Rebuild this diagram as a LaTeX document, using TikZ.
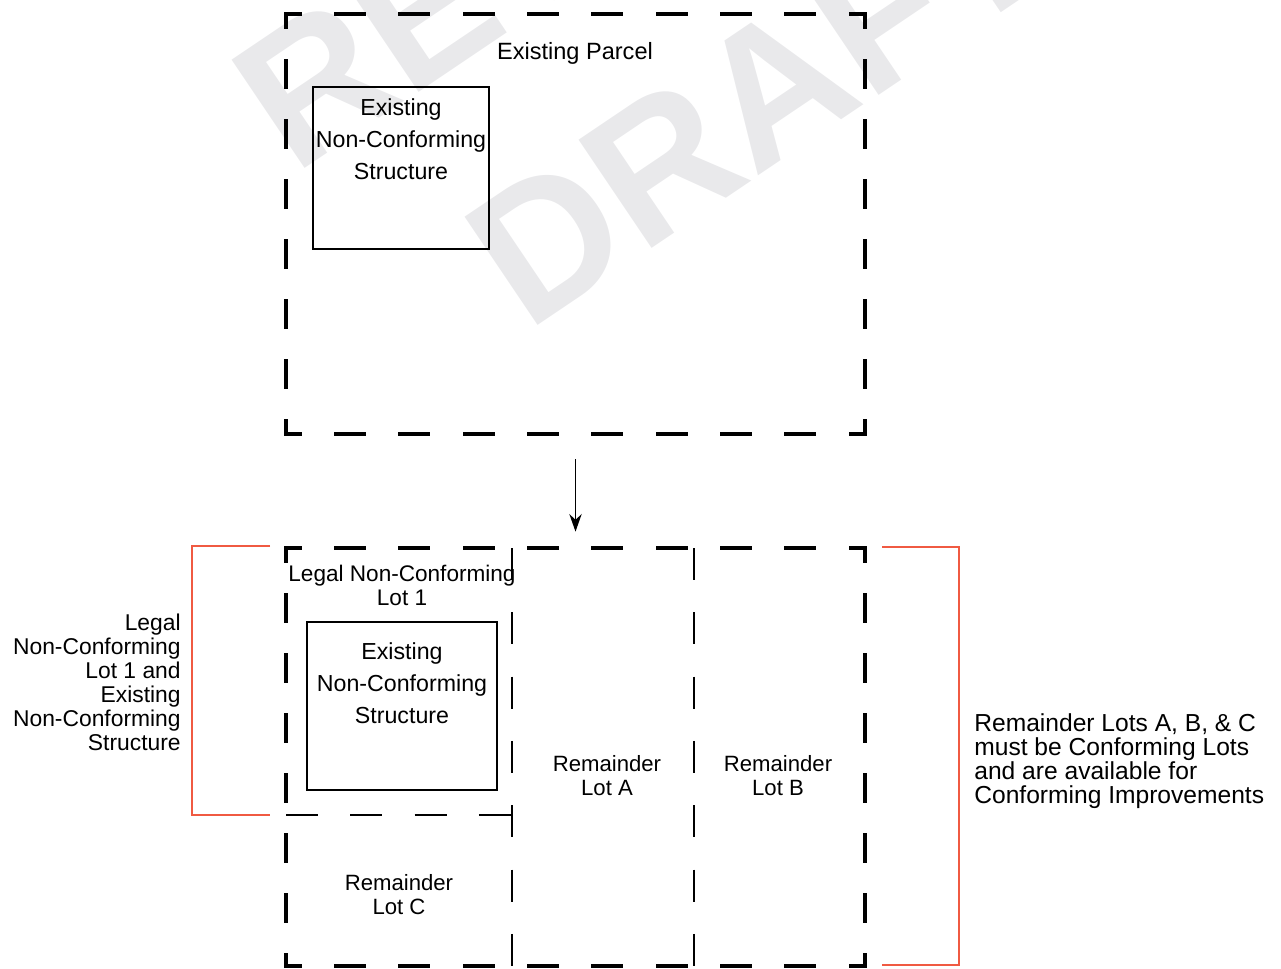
\documentclass[tikz,border=0pt]{standalone}
\usepackage{fontspec}
\setmainfont{Liberation Sans}
\usetikzlibrary{arrows.meta,positioning,fit}
\definecolor{bracketred}{RGB}{240,90,66}
\definecolor{wmgray}{RGB}{233,233,235}

\begin{document}
\begin{tikzpicture}[x=0.02cm,y=-0.02cm,>=Stealth,
  lbl/.style={align=center,inner sep=0pt,font=\fontsize{12.6}{13.66}\selectfont},
  strlbl/.style={align=center,inner sep=0pt,font=\fontsize{13.2}{18.2}\selectfont},
  note/.style={inner sep=0pt,font=\fontsize{13}{13.66}\selectfont},
  edgeh/.style={line width=2.4pt,line cap=rect,dash pattern=on 15.91pt off 20.71pt,dash phase=7.96pt},
  edgev/.style={line width=2.4pt,line cap=rect,dash pattern=on 14.67pt off 19.47pt,dash phase=7.33pt},
  lotline/.style={line width=1.3pt,dash pattern=on 18.3pt off 18.3pt},
  structure/.style={line width=1.2pt},
  bracket/.style={line width=1.2pt,bracketred},
  watermark/.style={rotate=34,text=wmgray,align=right,inner sep=0pt,font=\fontsize{108}{148}\selectfont\bfseries}]
\useasboundingbox (0,0) rectangle (1281,968);

% watermark behind everything
\node[watermark] (wm) at (641,20) {REVIEW\\DRAFT};

% parcel outlines
\node[fit={(286,14) (865,434)},inner sep=0pt] (parcel) {};
\node[fit={(286,548) (865,966)},inner sep=0pt] (split) {};
\foreach \p in {parcel,split}{
  \draw[edgeh] (\p.north west) -- (\p.north east);
  \draw[edgeh] (\p.south west) -- (\p.south east);
  \draw[edgev] (\p.north west) -- (\p.south west);
  \draw[edgev] (\p.north east) -- (\p.south east);
}
\node[lbl,font=\fontsize{13.4}{14}\selectfont] (parcelname) at (575,53.5) {Existing Parcel};

% existing structure
\draw[structure] (313,87) rectangle (489,249);
\node[strlbl] (oldstr) at (401,139) {Existing\\Non-Conforming\\Structure};

\draw[->,line width=1.1pt,arrows={-Stealth[length=10pt,width=7pt]},shorten <=0.5cm,shorten >=0.32cm] (parcel.south) -- (split.north);

% new lot lines
\draw[lotline] (512,548) -- (512,966);
\draw[lotline] (694,548) -- (694,966);
\draw[lotline] (286,815) -- (512,815);
\draw[structure] (307,622) rectangle (497,790);
\node[lbl,font=\fontsize{12.85}{13.66}\selectfont] (lot1) at (402,585) {Legal Non-Conforming\\Lot 1};
\node[strlbl] (newstr) at (402,683) {Existing\\Non-Conforming\\Structure};
\node[lbl] (lotA) at (607,776) {Remainder\\Lot A};
\node[lbl] (lotB) at (778,776) {Remainder\\Lot B};
\node[lbl] (lotC) at (399,895) {Remainder\\Lot C};

% brackets and notes
\draw[bracket] (270,546) -- (192,546) -- (192,815) -- (270,815);
\draw[bracket] (882,547) -- (959,547) -- (959,965) -- (882,965);
\node[note,anchor=east,align=right] (leftnote) at (181,682) {Legal\\Non-Conforming\\Lot 1 and\\Existing\\Non-Conforming\\Structure};
\node[note,anchor=west,align=left,font=\fontsize{14}{13.66}\selectfont] (rightnote) at (974,761.5) {Remainder Lots A, B, \& C\\must be Conforming Lots\\and are available for\\Conforming Improvements};
\end{tikzpicture}
\end{document}
